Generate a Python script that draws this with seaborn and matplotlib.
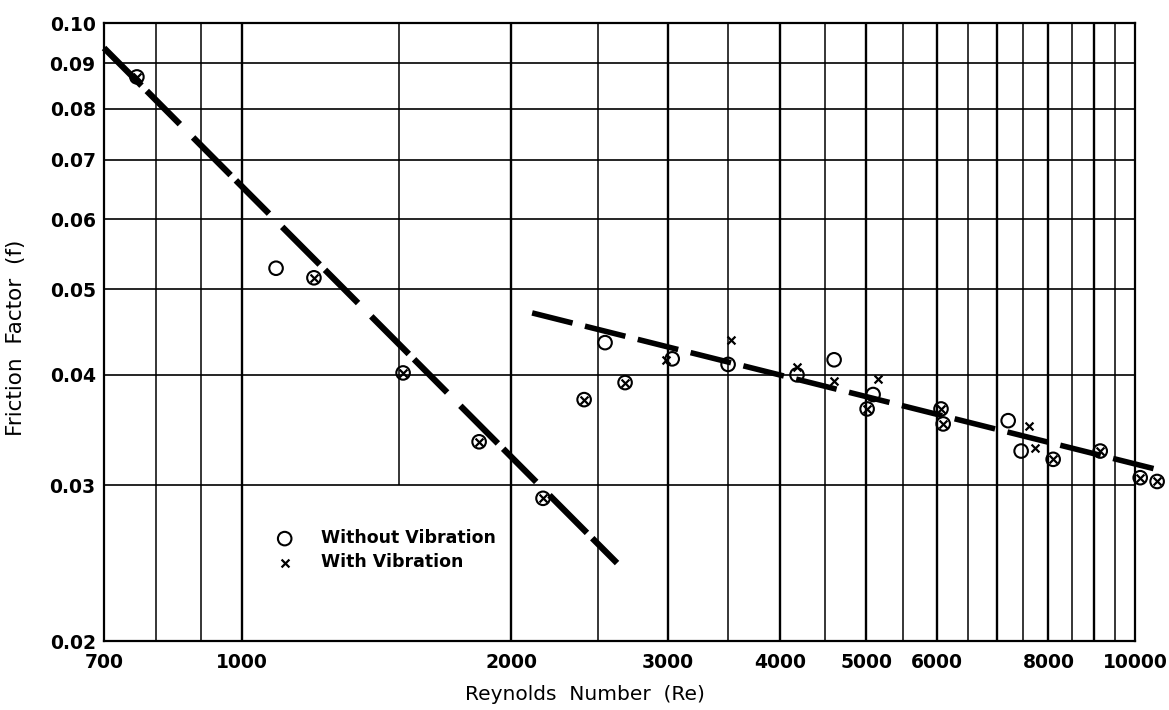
import matplotlib
matplotlib.use("Agg")
import matplotlib.pyplot as plt
import seaborn as sns
import pandas as pd

# data (Re, f)
without_re = [762, 1091, 1203, 1514, 1842, 2172, 2415, 2549, 2684, 3031, 3501,
              4182, 4602, 5011, 5089, 6063, 6097, 7210, 7455, 8097, 9142, 10135, 10587]
without_f = [0.0869, 0.0528, 0.0515, 0.0402, 0.0336, 0.0290, 0.0375, 0.0435, 0.0392, 0.0417, 0.0411,
             0.0400, 0.0416, 0.0366, 0.0380, 0.0366, 0.0352, 0.0355, 0.0328, 0.0321, 0.0328, 0.0306, 0.0303]

with_re = [762, 1203, 1514, 1842, 2172, 2415, 2684, 2984, 3528, 4182, 4602,
           5011, 5155, 6063, 6097, 7611, 7729, 8097, 9142, 10135, 10587]
with_f = [0.0869, 0.0515, 0.0402, 0.0336, 0.0290, 0.0375, 0.0392, 0.0416, 0.0438, 0.0408, 0.0394,
          0.0366, 0.0396, 0.0366, 0.0352, 0.0350, 0.0331, 0.0321, 0.0328, 0.0306, 0.0303]

# fitted dashed lines
laminar_re = [700, 2629]
laminar_f = [0.0937, 0.0245]
turb_re = [2112, 10670]
turb_f = [0.0470, 0.0312]

# graph paper
grid_x = [800, 900, 1000, 2000, 2500, 3000, 3500, 4000, 4500, 5000, 5500,
          6000, 6500, 7000, 7500, 8000, 8500, 9000, 9500]
grid_x_heavy = [1000, 2000, 3000, 4000, 5000, 6000, 7000, 8000, 9000]
grid_y = [0.03, 0.04, 0.05, 0.06, 0.07, 0.08, 0.09]

x_ticks = [700, 1000, 2000, 3000, 4000, 5000, 6000, 8000, 10000]
y_ticks = [0.02, 0.03, 0.04, 0.05, 0.06, 0.07, 0.08, 0.09, 0.10]
y_ticklabels = ["0.02", "0.03", "0.04", "0.05", "0.06", "0.07", "0.08", "0.09", "0.10"]

sns.set_style("white")
plt.rcParams['font.family'] = ['DejaVu Sans']
plt.rcParams['text.color'] = 'black'
plt.rcParams['axes.labelcolor'] = 'black'
plt.rcParams['xtick.color'] = 'black'
plt.rcParams['ytick.color'] = 'black'

fig = plt.figure(figsize=(11.69, 7.10), dpi=100)
ax = fig.add_axes([104 / 1169, 1 - 641 / 710, 1031 / 1169, 618 / 710])
ax.set_xscale("log")
ax.set_yscale("log")
ax.set_xlim(700, 10000)
ax.set_ylim(0.02, 0.10)

# grid lines
for gx in grid_x:
    lw = 1.7 if gx in grid_x_heavy else 1.1
    ax.vlines(gx, 0.02, 0.10, color="black", linewidth=lw, zorder=1)
ax.vlines(1500, 0.03, 0.10, color="black", linewidth=1.1, zorder=1)
ax.hlines(grid_y, 700, 10000, color="black", linewidth=1.2, zorder=1)

# dashed fit lines
df_lam = pd.DataFrame({"Re": laminar_re, "f": laminar_f})
df_turb = pd.DataFrame({"Re": turb_re, "f": turb_f})
sns.lineplot(data=df_lam, x="Re", y="f", color="black", linewidth=4.5, sort=False, ax=ax)
ax.lines[-1].set_dashes((8.5, 1.2, 7.5, 3.0))
ax.lines[-1].set_clip_on(False)
sns.lineplot(data=df_turb, x="Re", y="f", color="black", linewidth=4.0, sort=False, ax=ax)
ax.lines[-1].set_dashes((7.5, 2.3))
ax.lines[-1].set_clip_on(False)

# points
df_wo = pd.DataFrame({"Re": without_re, "f": without_f})
df_w = pd.DataFrame({"Re": with_re, "f": with_f})
sns.scatterplot(data=df_wo, x="Re", y="f", marker="o", s=95, facecolor="none",
                edgecolor="black", linewidth=1.5, label="Without Vibration", ax=ax, zorder=3)
sns.scatterplot(data=df_w, x="Re", y="f", marker="x", s=32, color="black",
                linewidth=1.6, label="With Vibration", ax=ax, zorder=3)
for coll in ax.collections:
    coll.set_clip_on(False)

leg = ax.legend(loc="upper left", bbox_to_anchor=(0.15, 0.195), frameon=False,
                handletextpad=1.1, labelspacing=0.35, borderpad=0,
                prop={"size": 12.5, "weight": "bold"})

# ticks and labels
ax.set_xticks(x_ticks)
ax.set_xticklabels([str(v) for v in x_ticks], fontsize=13.5, fontweight="bold")
ax.xaxis.set_minor_locator(matplotlib.ticker.NullLocator())
ax.set_yticks(y_ticks)
ax.set_yticklabels(y_ticklabels, fontsize=13.5, fontweight="bold")
ax.yaxis.set_minor_locator(matplotlib.ticker.NullLocator())
ax.tick_params(length=0, pad=6)
ax.tick_params(axis="x", pad=9)

ax.set_xlabel("Reynolds  Number  (Re)", fontsize=14.5)
ax.xaxis.set_label_coords((585 - 104) / 1031, -0.072)
ax.set_ylabel("Friction  Factor  (f)", fontsize=15.5)
ax.yaxis.set_label_coords(-0.076, 0.49)

for spine in ax.spines.values():
    spine.set_linewidth(1.6)
    spine.set_color("black")
ax.grid(False)

plt.savefig("out.png", dpi=100)
